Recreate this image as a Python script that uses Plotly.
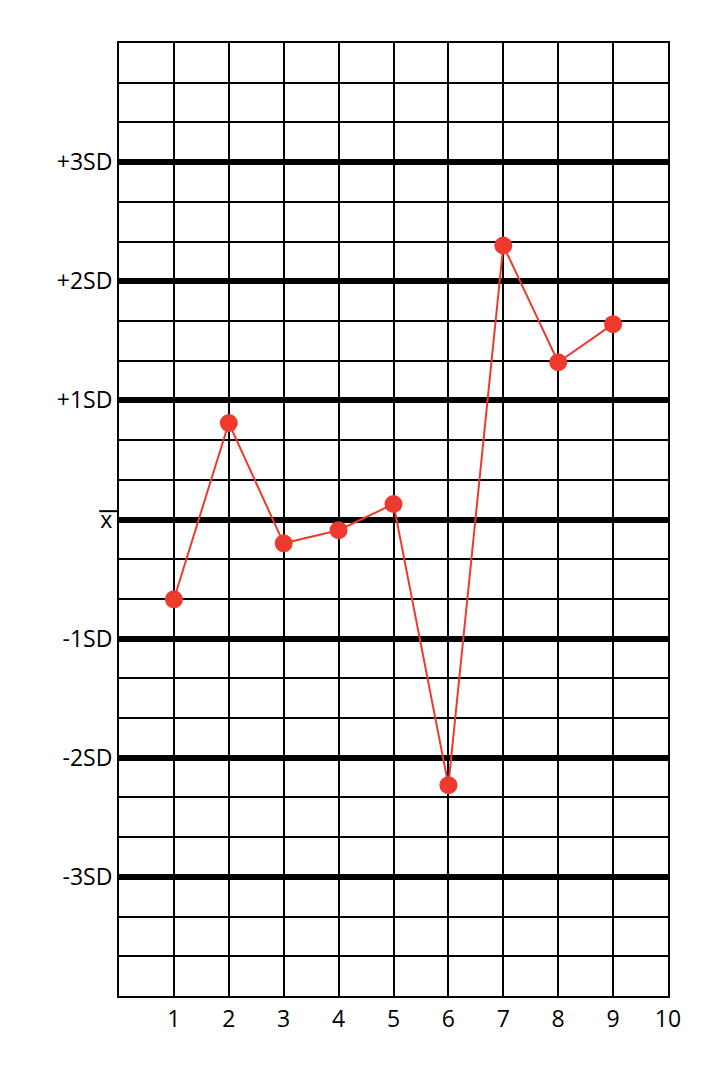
import plotly.graph_objects as go

runs = [1, 2, 3, 4, 5, 6, 7, 8, 9]
values = [-0.67, 0.81, -0.20, -0.09, 0.13, -2.23, 2.30, 1.32, 1.64]
sd_vals = [3, 2, 1, 0, -1, -2, -3]
sd_labels = ["+3SD", "+2SD", "+1SD", "x", "-1SD", "-2SD", "-3SD"]
x_ticks = [1, 2, 3, 4, 5, 6, 7, 8, 9, 10]
minor_vals = [i / 3 for i in range(-12, 13)]

fig = go.Figure()
fig.add_trace(go.Scatter(
    x=runs, y=values, mode="lines+markers",
    line=dict(color="#EE3A2E", width=2),
    marker=dict(color="#EE3A2E", size=18),
    showlegend=False, cliponaxis=False,
))

font = dict(family="Open Sans, Liberation Sans, sans-serif", size=23, color="black")

fig.update_layout(
    width=724, height=1072,
    margin=dict(l=111, r=64, t=35, b=84),
    paper_bgcolor="white", plot_bgcolor="white",
    font=font,
    xaxis=dict(
        range=[0, 10], tickvals=x_ticks, ticktext=[str(v) for v in x_ticks],
        showgrid=True, gridcolor="black", gridwidth=2,
        showline=True, linecolor="black", linewidth=2, mirror=True,
        zeroline=False, ticks="", ticklabelstandoff=1,
    ),
    yaxis=dict(
        range=[-4, 4], tickvals=sd_vals, ticktext=sd_labels,
        showgrid=True, gridcolor="black", gridwidth=6,
        minor=dict(tickvals=minor_vals, showgrid=True, gridcolor="black", gridwidth=2, ticks=""),
        showline=True, linecolor="black", linewidth=2, mirror=True,
        zeroline=False, ticks="", ticklabelstandoff=0,
    ),
)

# overline for the mean label (x̄)
fig.add_shape(type="line", xref="paper", yref="y",
              x0=-0.036, x1=-0.002, y0=0.07, y1=0.07,
              line=dict(color="black", width=2))

fig.write_html("out.html")
